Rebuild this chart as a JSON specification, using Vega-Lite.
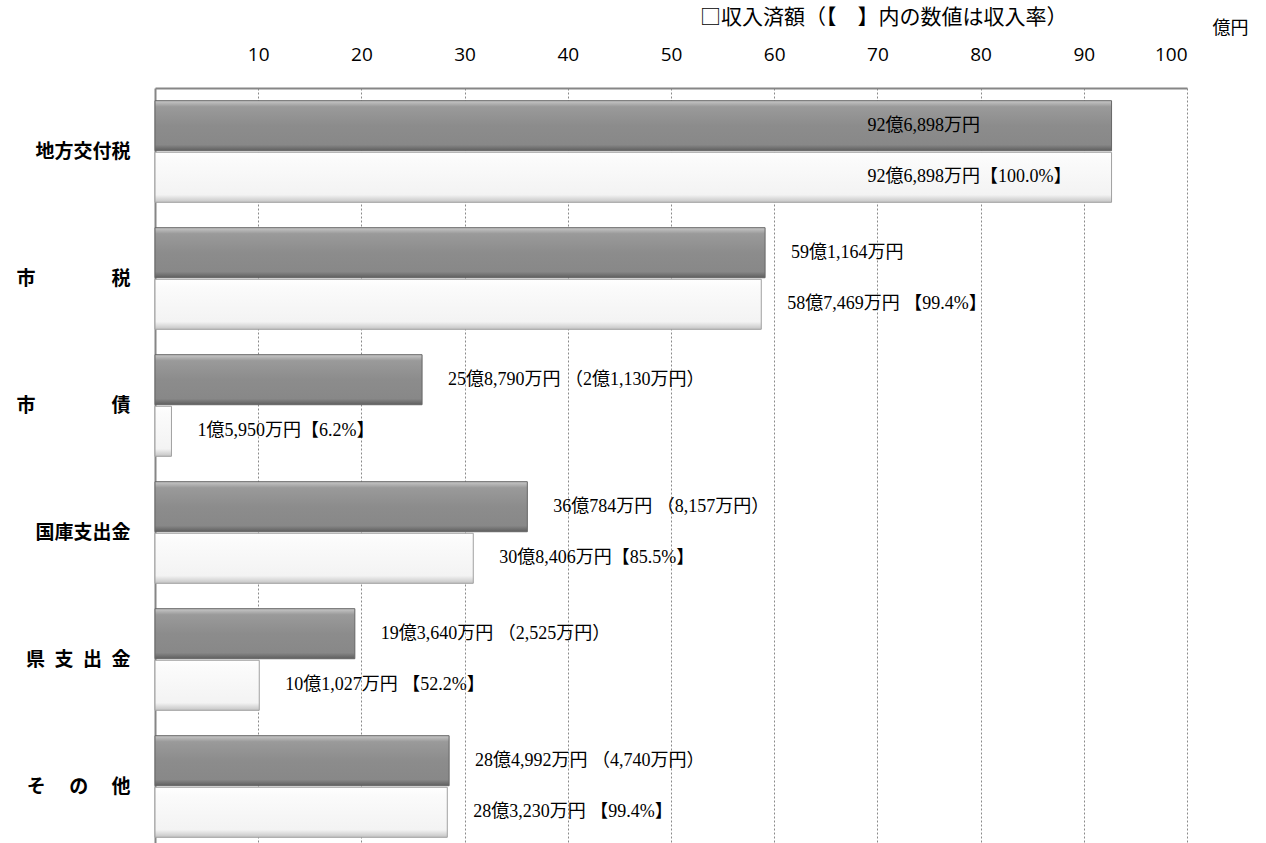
{
  "$schema": "https://vega.github.io/schema/vega-lite/v6.json",
  "autosize": {"type": "none"},
  "padding": {"left": 155, "top": 88, "right": 79, "bottom": 0},
  "width": 1032,
  "height": 762,
  "background": "white",
  "config": {"view": {"stroke": null}},
  "title": {
    "text": "□収入済額（【　】内の数値は収入率）",
    "anchor": "start",
    "frame": "group",
    "dx": 545,
    "dy": 9,
    "offset": 0,
    "fontSize": 21,
    "font": "Noto Sans CJK JP",
    "fontWeight": "normal",
    "color": "#000000"
  },
  "data": {
    "values": [
      {"cat": "地方交付税", "kind": "予算額", "value": 92.6898, "label": "92億6,898万円"},
      {"cat": "地方交付税", "kind": "収入済額", "value": 92.6898, "label": "92億6,898万円【100.0%】"},
      {"cat": "市税", "kind": "予算額", "value": 59.1164, "label": "59億1,164万円"},
      {"cat": "市税", "kind": "収入済額", "value": 58.7469, "label": "58億7,469万円 【99.4%】"},
      {"cat": "市債", "kind": "予算額", "value": 25.879, "label": "25億8,790万円 （2億1,130万円）"},
      {"cat": "市債", "kind": "収入済額", "value": 1.595, "label": "1億5,950万円【6.2%】"},
      {"cat": "国庫支出金", "kind": "予算額", "value": 36.0784, "label": "36億784万円 （8,157万円）"},
      {"cat": "国庫支出金", "kind": "収入済額", "value": 30.8406, "label": "30億8,406万円【85.5%】"},
      {"cat": "県支出金", "kind": "予算額", "value": 19.364, "label": "19億3,640万円 （2,525万円）"},
      {"cat": "県支出金", "kind": "収入済額", "value": 10.1027, "label": "10億1,027万円 【52.2%】"},
      {"cat": "その他", "kind": "予算額", "value": 28.4992, "label": "28億4,992万円 （4,740万円）"},
      {"cat": "その他", "kind": "収入済額", "value": 28.323, "label": "28億3,230万円 【99.4%】"}
    ]
  },
  "encoding": {
    "y": {
      "field": "cat",
      "type": "nominal",
      "sort": ["地方交付税", "市税", "市債", "国庫支出金", "県支出金", "その他"],
      "scale": {"paddingInner": 0.2, "paddingOuter": 0.1},
      "axis": {
        "title": null,
        "orient": "left",
        "ticks": false,
        "grid": false,
        "domain": true,
        "domainColor": "#868686",
        "domainWidth": 2,
        "labelPadding": 25,
        "labelFont": "Noto Sans CJK JP",
        "labelFontSize": 19,
        "labelFontWeight": "bold",
        "labelColor": "#000000",
        "labelExpr": "datum.value == '市税' ? '市　　　　税' : datum.value == '市債' ? '市　　　　債' : datum.value == '県支出金' ? '県\u2002支\u2002出\u2002金' : datum.value == 'その他' ? 'そ　 の　 他' : datum.value"
      }
    },
    "yOffset": {
      "field": "kind",
      "type": "nominal",
      "sort": ["予算額", "収入済額"],
      "scale": {"domain": ["予算額", "収入済額"], "paddingInner": 0.03}
    },
    "x": {
      "field": "value",
      "type": "quantitative",
      "scale": {"domain": [0, 100], "nice": false},
      "axis": {
        "orient": "top",
        "values": [10, 20, 30, 40, 50, 60, 70, 80, 90, 100],
        "grid": true,
        "gridDash": [2, 2],
        "gridColor": "#8a8a8a",
        "gridWidth": 1,
        "ticks": false,
        "domain": true,
        "domainColor": "#868686",
        "domainWidth": 2,
        "labelPadding": 24,
        "labelFont": "Open Sans",
        "labelFontSize": 19,
        "labelColor": "#000000",
        "title": "億円",
        "titleFont": "Noto Sans CJK JP",
        "titleFontSize": 18,
        "titleFontWeight": "normal",
        "titleColor": "#000000",
        "titleX": 1075,
        "titleY": -60,
        "titleAlign": "center",
        "titleBaseline": "middle",
        "titleAnchor": null
      }
    }
  },
  "layer": [
    {
      "transform": [{"filter": "datum.kind == '予算額'"}],
      "mark": {
        "type": "bar",
        "stroke": "#666666",
        "strokeWidth": 1,
        "color": {
          "gradient": "linear",
          "x1": 0, "y1": 0, "x2": 0, "y2": 1,
          "stops": [
            {"offset": 0, "color": "#c8c8c8"},
            {"offset": 0.12, "color": "#9a9a9a"},
            {"offset": 0.5, "color": "#8c8c8c"},
            {"offset": 0.88, "color": "#888888"},
            {"offset": 1, "color": "#5e5e5e"}
          ]
        }
      }
    },
    {
      "transform": [{"filter": "datum.kind == '収入済額'"}],
      "mark": {
        "type": "bar",
        "stroke": "#a0a0a0",
        "strokeWidth": 1,
        "color": {
          "gradient": "linear",
          "x1": 0, "y1": 0, "x2": 0, "y2": 1,
          "stops": [
            {"offset": 0, "color": "#ffffff"},
            {"offset": 0.15, "color": "#fbfbfb"},
            {"offset": 0.85, "color": "#f3f3f3"},
            {"offset": 1, "color": "#c4c4c4"}
          ]
        }
      }
    },
    {
      "transform": [{"filter": "datum.value < 90"}],
      "mark": {
        "type": "text",
        "align": "left",
        "baseline": "middle",
        "dx": 26,
        "font": "Liberation Serif, Noto Sans CJK JP",
        "fontSize": 18,
        "color": "#000000"
      },
      "encoding": {"text": {"field": "label"}}
    },
    {
      "transform": [{"filter": "datum.value >= 90"}],
      "mark": {
        "type": "text",
        "align": "left",
        "baseline": "middle",
        "dx": -244,
        "font": "Liberation Serif, Noto Sans CJK JP",
        "fontSize": 18,
        "color": "#000000"
      },
      "encoding": {"text": {"field": "label"}}
    }
  ]
}
